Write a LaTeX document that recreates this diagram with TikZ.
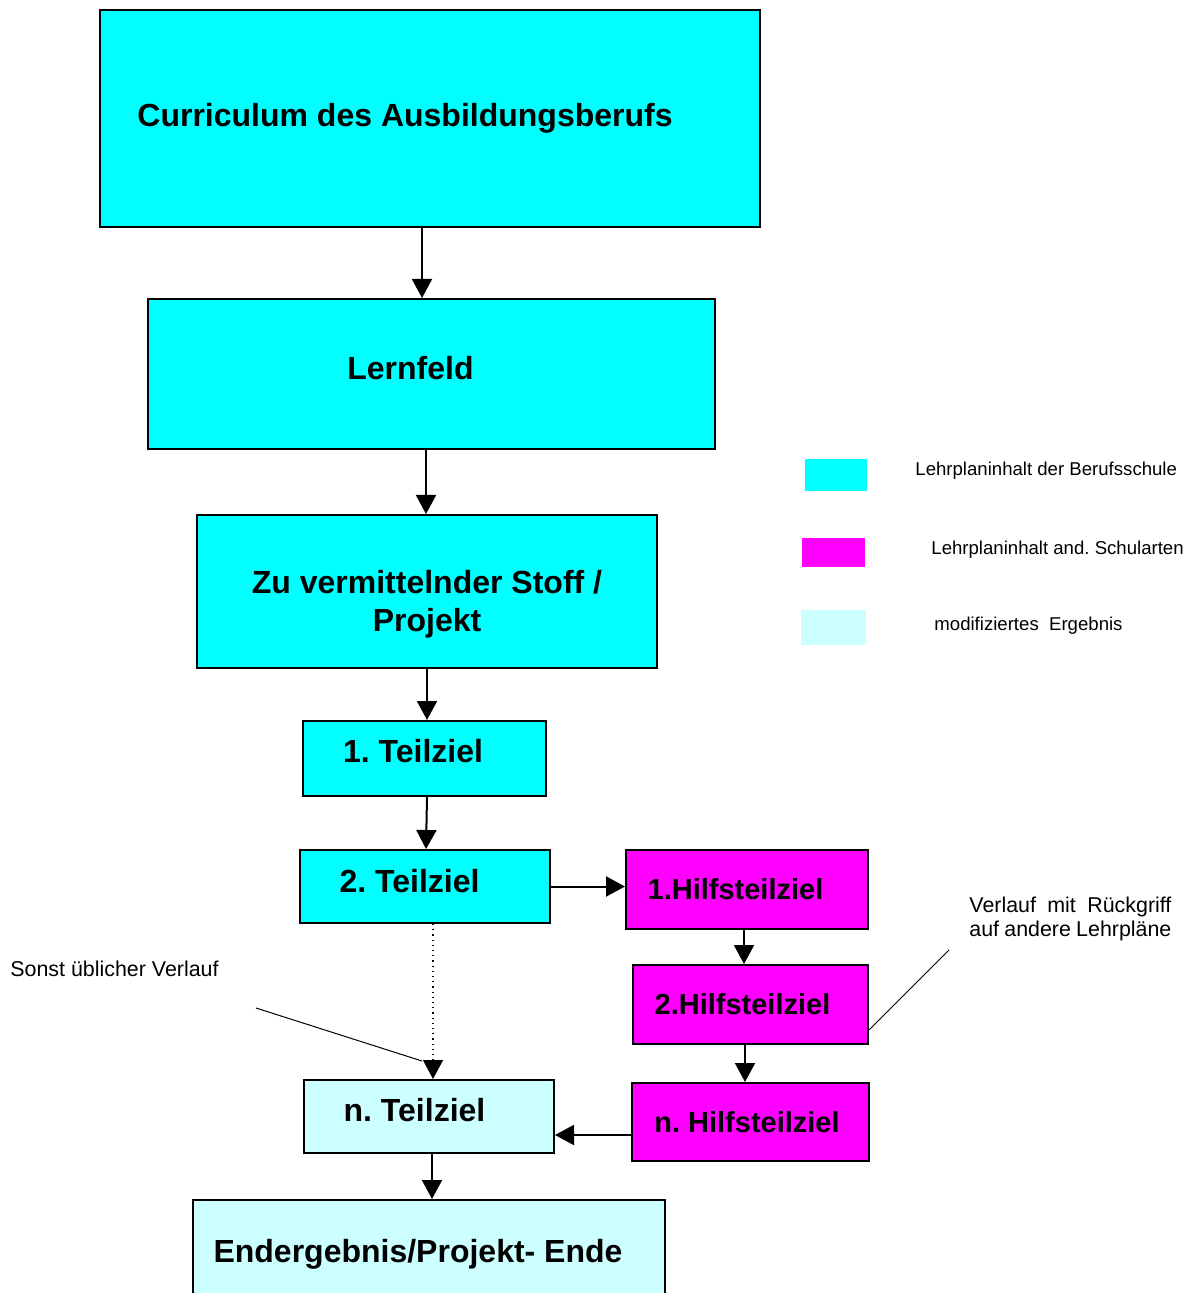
\documentclass[tikz,border=0pt]{standalone}
\usepackage{fontspec}
\setmainfont{Liberation Sans}
\frenchspacing
\usetikzlibrary{arrows.meta}
\definecolor{bscyan}{RGB}{0,255,255}
\definecolor{ansmag}{RGB}{255,0,255}
\definecolor{modcyan}{RGB}{204,255,255}
\tikzset{
  box/.style={draw,line width=1pt,inner sep=0pt,align=center,
    font=\bfseries\fontsize{16}{19}\selectfont},
  bsbox/.style={box,fill=bscyan},
  ansbox/.style={box,fill=ansmag,font=\bfseries\fontsize{14.5}{17}\selectfont},
  modbox/.style={box,fill=modcyan},
  flow/.style={line width=1pt,-{Triangle[length=9.5pt,width=10pt]}},
  note/.style={font=\fontsize{10.7}{12}\selectfont,inner sep=0pt},
  legtext/.style={font=\fontsize{9.3}{11}\selectfont,anchor=base west,inner sep=0pt},
}

\begin{document}
\begin{tikzpicture}[x=0.5pt,y=-0.5pt]
\useasboundingbox (0,0) rectangle (1194,1293);
\node[bsbox,minimum width=330pt,minimum height=108.5pt] (curriculum) at (430,118.5) {Curriculum des Ausbildungsberufs\hspace*{25pt}};
\node[bsbox,minimum width=283.5pt,minimum height=75pt] (lernfeld) at (431.5,374) {Lernfeld\hspace*{21pt}\\[-13pt]};
\node[bsbox,minimum width=230pt,minimum height=76.5pt] (stoff) at (427,591.5) {\\[5pt]Zu vermittelnder Stoff /\\Projekt};
\node[bsbox,minimum width=121.5pt,minimum height=37.5pt] (teilA) at (424.5,758.5) {1. Teilziel\hspace*{11.5pt}\\[-11pt]};
\node[bsbox,minimum width=125pt,minimum height=36.5pt] (teilB) at (425,886.5) {2. Teilziel\hspace*{15.5pt}\\[-13pt]};
\node[modbox,minimum width=125pt,minimum height=36.5pt] (teilN) at (429,1116.5) {n. Teilziel\hspace*{14.5pt}\\[-12pt]};
\node[modbox,minimum width=236pt,minimum height=50pt,text height=15.9pt] (ende) at (429,1250) {Endergebnis/Projekt- Ende\hspace*{11pt}};
\node[ansbox,minimum width=121pt,minimum height=39.5pt] (hilfA) at (747,889.5) {1.Hilfsteilziel\hspace*{11.5pt}};
\node[ansbox,minimum width=117.5pt,minimum height=39.5pt] (hilfB) at (750.5,1004.5) {2.Hilfsteilziel\hspace*{8pt}};
\node[ansbox,minimum width=118.5pt,minimum height=39pt] (hilfN) at (750.5,1122) {n. Hilfsteilziel\hspace*{3.5pt}};

\draw[flow] ([xshift=-4pt]curriculum.south) -- ([xshift=-4.75pt]lernfeld.north);
\draw[flow] ([xshift=-2.75pt]lernfeld.south) -- ([xshift=-0.5pt]stoff.north);
\draw[flow] (stoff.south) -- ([xshift=1.25pt]teilA.north);
\draw[flow] ([xshift=1.25pt]teilA.south) -- ([xshift=0.5pt]teilB.north);
\draw[flow] (teilB.east) -- (teilB.east -| hilfA.west);
\draw[flow] ([xshift=-1.5pt]hilfA.south) -- ([xshift=-3.25pt]hilfB.north);
\draw[flow] ([xshift=-2.75pt]hilfB.south) -- ([xshift=-2.75pt]hilfN.north);
\draw[flow] ([yshift=-6.5pt]hilfN.west) -- ([yshift=-6.5pt]hilfN.west -| teilN.east);
\draw[flow,line width=0.6pt,dotted] ([xshift=4pt]teilB.south) -- ([xshift=2pt]teilN.north);
\draw[flow] ([xshift=1.5pt]teilN.south) -- ([xshift=1.5pt]ende.north);

\node[note,anchor=base west] (sonst) at (10,976) {Sonst üblicher Verlauf};
\coordinate (sonst-a) at (256,1008);
\draw[line width=0.5pt] (sonst-a) -- ([xshift=-3.5pt,yshift=9pt]teilN.north);
\node[note,anchor=north west,text width=101pt,align=justify] (rueck) at (969,897) {Verlauf mit Rückgriff\linebreak auf andere Lehrpläne};
\coordinate (rueck-a) at (949,950);
\draw[line width=0.5pt] (rueck-a) -- ([yshift=-12.75pt]hilfB.east);

\node[fill=bscyan,minimum width=31pt,minimum height=16pt,inner sep=0pt] (legA) at (836,475) {};
\node[fill=ansmag,minimum width=31.5pt,minimum height=14.5pt,inner sep=0pt] (legB) at (833.5,552.5) {};
\node[fill=modcyan,minimum width=32.5pt,minimum height=17.5pt,inner sep=0pt] (legC) at (833.5,627.5) {};
\node[legtext] (legA-t) at (915,476) {Lehrplaninhalt der Berufsschule};
\node[legtext] (legB-t) at (931,554) {Lehrplaninhalt and. Schularten};
\node[legtext] (legC-t) at (934,630) {modifiziertes~ Ergebnis};
\end{tikzpicture}
\end{document}
